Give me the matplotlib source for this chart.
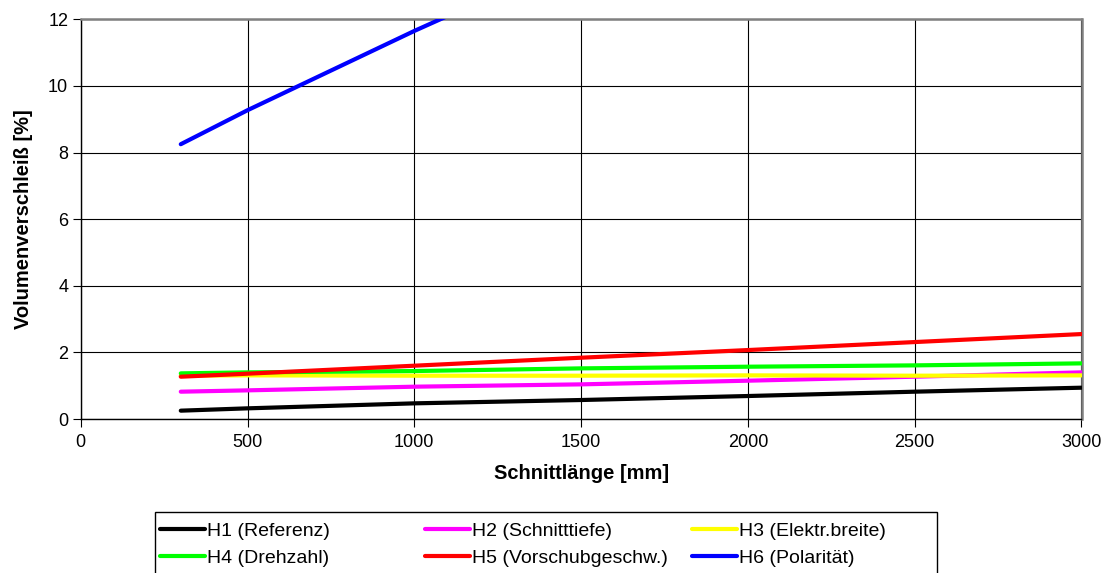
import matplotlib
matplotlib.use("Agg")
import matplotlib.pyplot as plt
from matplotlib.patches import Rectangle

plt.rcParams['font.family'] = ['Liberation Sans', 'DejaVu Sans']

x_vals = [300, 500, 1000, 1500, 2000, 2500, 3000]
h1 = [0.25, 0.32, 0.47, 0.57, 0.69, 0.82, 0.94]
h2 = [0.82, 0.86, 0.97, 1.04, 1.15, 1.27, 1.40]
h3 = [1.30, 1.31, 1.30, 1.30, 1.31, 1.30, 1.31]
h4 = [1.37, 1.40, 1.44, 1.52, 1.57, 1.61, 1.67]
h5 = [1.27, 1.36, 1.60, 1.84, 2.07, 2.31, 2.55]
x_h6 = [300, 500, 1000, 1500]
h6 = [8.25, 9.27, 11.65, 13.9]

labels = ["H1 (Referenz)", "H2 (Schnitttiefe)", "H3 (Elektr.breite)",
          "H4 (Drehzahl)", "H5 (Vorschubgeschw.)", "H6 (Polarität)"]
colors = ["#000000", "#FF00FF", "#FFFF00", "#00FF00", "#FF0000", "#0000FF"]

x_ticks = [0, 500, 1000, 1500, 2000, 2500, 3000]
y_ticks = [0, 2, 4, 6, 8, 10, 12]

W, H = 1107, 573
fig = plt.figure(figsize=(W / 100, H / 100), dpi=100)
ax = fig.add_axes([80.7 / W, 1 - 419 / H, (1081.5 - 80.7) / W, (419 - 19.3) / H])

series = [(x_vals, h1), (x_vals, h2), (x_vals, h3), (x_vals, h4), (x_vals, h5), (x_h6, h6)]
lines = []
for (xs, ys), c, lab in zip(series, colors, labels):
    ln, = ax.plot(xs, ys, color=c, lw=3, label=lab, solid_capstyle='round', zorder=3)
    lines.append(ln)

ax.set_xlim(0, 3000)
ax.set_ylim(0, 12)
ax.set_xticks(x_ticks)
ax.set_yticks(y_ticks)
ax.grid(True, color='#000000', lw=0.8, zorder=1)
ax.tick_params(axis='both', direction='out', length=6, width=0.8, labelsize=13, colors='#000000')
ax.tick_params(axis='y', pad=3)
ax.tick_params(axis='x', pad=5)
for s in ['left', 'bottom']:
    ax.spines[s].set_color('#000000')
    ax.spines[s].set_linewidth(1.0)
for s in ['top', 'right']:
    ax.spines[s].set_color('#808080')
    ax.spines[s].set_linewidth(1.8)

ax.set_xlabel("Schnittlänge [mm]", fontsize=14.5, fontweight='bold', labelpad=9)
ax.set_ylabel("Volumenverschleiß [%]", fontsize=14.5, fontweight='bold', labelpad=11)

# legend box
fig.patches.append(Rectangle((155 / W, 1 - 590 / H), (937 - 155) / W, (590 - 512) / H,
                             transform=fig.transFigure, fill=False, edgecolor='#000000', lw=1.0))
col_x = [160, 425, 692]
cols = [[0, 3], [1, 4], [2, 5]]
for cx, idx in zip(col_x, cols):
    fig.legend(handles=[lines[i] for i in idx], loc='upper left',
               bbox_to_anchor=(cx / W, 1 - 522 / H), frameon=False, fontsize=14,
               handlelength=2.3, handletextpad=0.1, labelspacing=0.5, borderpad=0,
               borderaxespad=0)

fig.savefig("out.png", dpi=100)
